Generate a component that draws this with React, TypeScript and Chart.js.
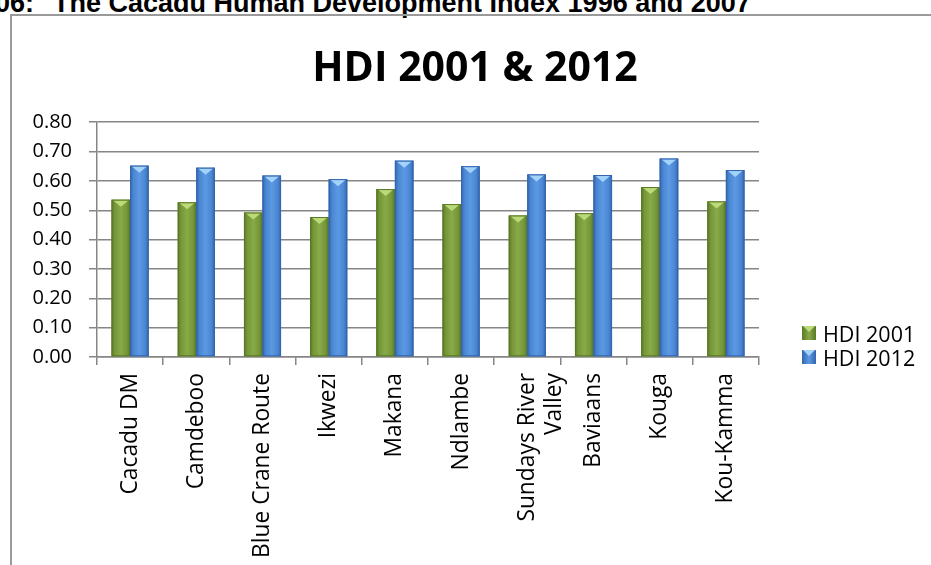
import React, { useEffect, useRef } from "react";
import { Chart, registerables } from "chart.js";

Chart.register(...registerables);

const categories: (string | string[])[] = [
  "Cacadu DM",
  "Camdeboo",
  "Blue Crane Route",
  "Ikwezi",
  "Makana",
  "Ndlambe",
  ["Sundays River", "Valley"],
  "Baviaans",
  "Kouga",
  "Kou-Kamma",
];
const hdi2001 = [0.536, 0.527, 0.492, 0.477, 0.572, 0.521, 0.482, 0.49, 0.579, 0.53];
const hdi2012 = [0.652, 0.645, 0.618, 0.606, 0.669, 0.65, 0.622, 0.62, 0.676, 0.637];
const seriesNames = ["HDI 2001", "HDI 2012"];
const chartTitle = "HDI 2001 & 2012";
const headingNumber = "06:";
const headingText = "The Cacadu Human Development Index 1996 and 2007";

const palettes = [
  { dark: "#5a7926", mid: "#76973a", light: "#88aa47", cap: "#bcdb78", base: "#77933c" },
  { dark: "#3465ae", mid: "#4a86d2", light: "#5c99e3", cap: "#a3d3fb", base: "#4f86cf" },
];

const GRID = "#868686";

const barStylePlugin = {
  id: "barStyle",
  afterDatasetsDraw(chart: any) {
    const ctx = chart.ctx;
    chart.data.datasets.forEach((_ds: any, di: number) => {
      const meta = chart.getDatasetMeta(di);
      const p = palettes[di];
      meta.data.forEach((el: any) => {
        const { x, y, base, width } = el.getProps(["x", "y", "base", "width"], true);
        const left = x - width / 2;
        const right = x + width / 2;
        ctx.save();
        const g = ctx.createLinearGradient(left, 0, right, 0);
        g.addColorStop(0, p.dark);
        g.addColorStop(0.18, p.mid);
        g.addColorStop(0.5, p.light);
        g.addColorStop(0.82, p.mid);
        g.addColorStop(1, p.dark);
        ctx.fillStyle = g;
        ctx.fillRect(left, y, width, base - y);
        ctx.fillStyle = p.cap;
        ctx.beginPath();
        ctx.moveTo(left + 1.5, y + 0.5);
        ctx.lineTo(right - 1.5, y + 0.5);
        ctx.lineTo(x, y + 7);
        ctx.closePath();
        ctx.fill();
        ctx.strokeStyle = p.dark;
        ctx.lineWidth = 1;
        ctx.strokeRect(left + 0.5, y + 0.5, width - 1, base - y - 1);
        ctx.restore();
      });
    });
  },
};

function ChartView() {
  const ref = useRef<HTMLCanvasElement | null>(null);
  useEffect(() => {
    if (!ref.current) return;
    const chart = new Chart(ref.current, {
      type: "bar",
      data: {
        labels: categories as any,
        datasets: [
          { label: seriesNames[0], data: hdi2001, backgroundColor: palettes[0].base, yAxisID: "y" },
          { label: seriesNames[1], data: hdi2012, backgroundColor: palettes[1].base, yAxisID: "y" },
        ],
      },
      options: {
        animation: false,
        responsive: false,
        maintainAspectRatio: false,
        layout: { padding: { top: 0, right: 0, bottom: 0, left: 19 } },
        datasets: { bar: { categoryPercentage: 0.56, barPercentage: 1.0 } },
        plugins: {
          legend: { display: false },
          tooltip: { enabled: false },
          title: {
            display: true,
            text: chartTitle,
            color: "#000",
            font: { family: "'Open Sans'", size: 41, weight: "bold", lineHeight: 1.2 },
            padding: { top: 45, bottom: 28 },
          },
        },
        scales: {
          x: {
            afterFit: (s: any) => {
              s.height = 208;
            },
            grid: {
              offset: true,
              drawOnChartArea: false,
              drawTicks: true,
              tickLength: 8,
              color: GRID,
              lineWidth: 1.5,
            },
            border: { display: true, color: GRID, width: 1.5 },
            ticks: {
              minRotation: 90,
              maxRotation: 90,
              autoSkip: false,
              padding: 8,
              color: "#000",
              font: { family: "'Open Sans'", size: 22.8 },
            },
          },
          y: {
            min: 0,
            max: 0.8,
            afterFit: (s: any) => {
              s.width = 78;
            },
            grid: { color: GRID, lineWidth: 1.5, drawTicks: true, tickLength: 8 },
            border: { display: true, color: GRID, width: 1.5 },
            ticks: {
              stepSize: 0.1,
              padding: 17,
              color: "#000",
              font: { family: "'Open Sans'", size: 20 },
              callback: (v: any) => Number(v).toFixed(2),
            },
          },
          legendSpace: {
            type: "linear",
            position: "right",
            display: true,
            afterFit: (s: any) => {
              s.width = 172;
            },
            grid: { display: false, drawTicks: false },
            border: { display: false },
            ticks: { display: false },
          },
        },
      },
      plugins: [barStylePlugin],
    });
    return () => chart.destroy();
  }, []);
  return (
    <canvas
      ref={ref}
      width={931}
      height={565}
      style={{ position: "absolute", left: 0, top: 0, width: 931, height: 565 }}
    />
  );
}

function LegendItem({ i, top }: { i: number; top: number }) {
  const p = palettes[i];
  return (
    <div
      style={{
        position: "absolute",
        left: 802,
        top,
        height: 24,
        display: "flex",
        alignItems: "center",
        fontFamily: "'Open Sans'",
        fontSize: 21.5,
        color: "#000",
        whiteSpace: "nowrap",
      }}
    >
      <span
        style={{
          display: "inline-block",
          width: 14,
          height: 14,
          marginRight: 7,
          background: `linear-gradient(to right, ${p.dark}, ${p.light} 50%, ${p.dark})`,
          position: "relative",
        }}
      >
        <span
          style={{
            position: "absolute",
            left: 1,
            top: 0,
            width: 0,
            height: 0,
            borderLeft: "6px solid transparent",
            borderRight: "6px solid transparent",
            borderTop: `6px solid ${p.cap}`,
          }}
        />
      </span>
      <span>{seriesNames[i]}</span>
    </div>
  );
}

const headingStyle: React.CSSProperties = {
  position: "absolute",
  top: -10,
  fontFamily: "'Liberation Sans', Arial, sans-serif",
  fontWeight: "bold",
  fontSize: 27,
  lineHeight: "26px",
  whiteSpace: "nowrap",
  color: "#000",
};

export default function App() {
  return (
    <div
      style={{
        position: "fixed",
        left: 0,
        top: 0,
        width: 931,
        height: 565,
        overflow: "hidden",
        background: "#fff",
      }}
    >
      <div style={{ ...headingStyle, left: -5 }}>{headingNumber}</div>
      <div style={{ ...headingStyle, left: 53 }}>{headingText}</div>
      <div
        style={{
          position: "absolute",
          left: 10,
          top: 14,
          width: 1000,
          height: 700,
          border: "2px solid #9a9a9a",
          boxSizing: "border-box",
        }}
      />
      <ChartView />
      <LegendItem i={0} top={321} />
      <LegendItem i={1} top={345} />
    </div>
  );
}
